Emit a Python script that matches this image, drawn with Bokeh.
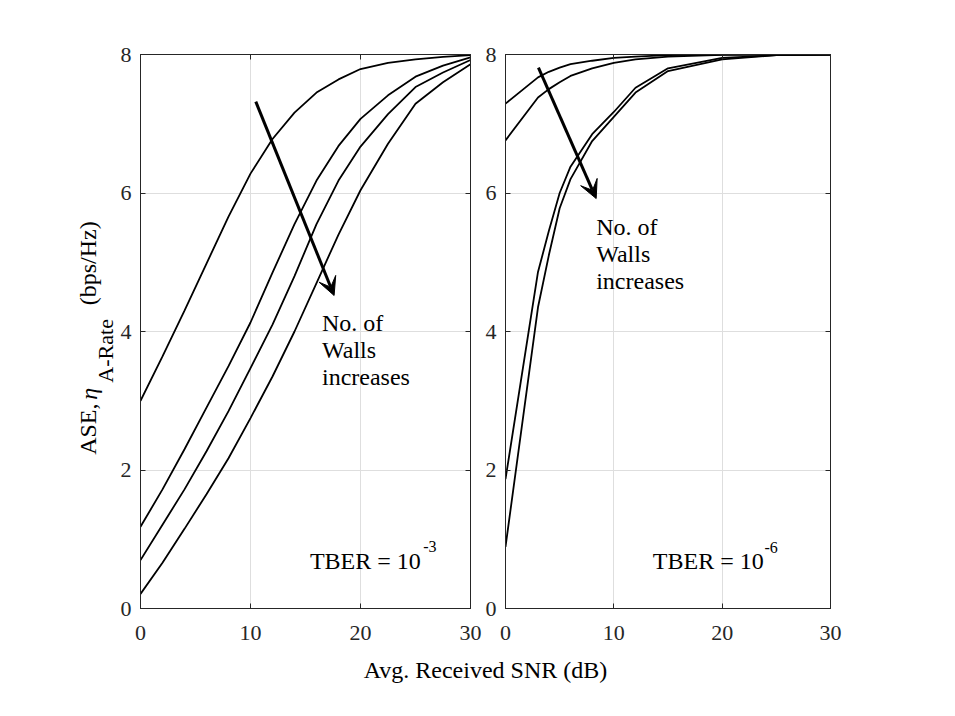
import math
from bokeh.plotting import figure
from bokeh.models import Range1d, LinearAxis, Label, Arrow, VeeHead, FixedTicker
from bokeh.core.properties import value
from bokeh.layouts import row, column
from bokeh.embed import file_html
from bokeh.resources import INLINE

# ---------------- data ----------------
snr_left = [0, 2, 4, 6, 8, 10, 12, 14, 16, 18, 20, 22.5, 25, 27.5, 30]
ase_l1 = [3.00, 3.64, 4.30, 4.98, 5.66, 6.28, 6.78, 7.16, 7.45, 7.64, 7.79, 7.88, 7.93, 7.965, 7.99]
ase_l2 = [1.18, 1.72, 2.30, 2.90, 3.50, 4.13, 4.85, 5.55, 6.18, 6.68, 7.07, 7.41, 7.68, 7.84, 7.96]
ase_l3 = [0.70, 1.21, 1.72, 2.27, 2.85, 3.47, 4.10, 4.80, 5.55, 6.18, 6.67, 7.14, 7.53, 7.74, 7.92]
ase_l4 = [0.21, 0.66, 1.15, 1.65, 2.17, 2.75, 3.35, 4.00, 4.70, 5.40, 6.04, 6.71, 7.29, 7.60, 7.86]

snr_right = [0, 3, 4, 5, 6, 8, 10, 12, 15, 20, 25, 30]
ase_r1 = [7.29, 7.67, 7.75, 7.81, 7.86, 7.91, 7.95, 7.97, 7.99, 8.00, 8.00, 8.00]
ase_r2 = [6.76, 7.38, 7.50, 7.60, 7.69, 7.80, 7.88, 7.93, 7.97, 7.995, 8.00, 8.00]
ase_r3 = [1.87, 4.86, 5.45, 6.00, 6.38, 6.85, 7.17, 7.52, 7.80, 7.95, 7.99, 8.00]
ase_r4 = [0.89, 4.35, 5.10, 5.78, 6.20, 6.75, 7.10, 7.45, 7.76, 7.93, 7.99, 8.00]

x_ticks = [0, 10, 20, 30]
y_ticks = [0, 2, 4, 6, 8]

FONT = "Liberation Serif"
AX = "#262626"
GRID = "#dedede"
H = 658


def make_panel(width, b_left, b_right):
    p = figure(width=width, height=H, x_range=Range1d(0, 30), y_range=Range1d(0, 8),
               output_backend="svg", toolbar_location=None,
               min_border_left=b_left, min_border_right=b_right,
               min_border_top=54, min_border_bottom=50)
    p.background_fill_color = "white"
    p.border_fill_color = "white"
    p.outline_line_color = AX
    p.outline_line_width = 1
    for ax in p.xaxis:
        ax.ticker = FixedTicker(ticks=x_ticks)
        ax.major_label_standoff = 17
    for ax in p.yaxis:
        ax.ticker = FixedTicker(ticks=y_ticks)
        ax.major_label_standoff = 9
    for ax in p.xaxis + p.yaxis:
        ax.major_tick_in = 5
        ax.major_tick_out = 0
        ax.minor_tick_line_color = None
        ax.axis_line_color = AX
        ax.major_tick_line_color = AX
        ax.major_label_text_font = FONT
        ax.major_label_text_font_size = "22px"
        ax.major_label_text_color = AX
    # mirrored ticks on top and right (labels not drawn)
    top = LinearAxis(ticker=FixedTicker(ticks=x_ticks), major_tick_in=5, major_tick_out=0,
                     minor_tick_line_color=None, axis_line_color=AX, major_tick_line_color=AX,
                     major_label_text_color=None, major_label_text_font_size="1px",
                     major_label_standoff=0)
    right = LinearAxis(ticker=FixedTicker(ticks=y_ticks), major_tick_in=5, major_tick_out=0,
                       minor_tick_line_color=None, axis_line_color=AX, major_tick_line_color=AX,
                       major_label_text_color=None, major_label_text_font_size="1px",
                       major_label_standoff=0)
    p.add_layout(top, "above")
    p.add_layout(right, "right")
    p.xgrid.ticker = FixedTicker(ticks=x_ticks)
    p.ygrid.ticker = FixedTicker(ticks=y_ticks)
    p.xgrid.grid_line_color = GRID
    p.ygrid.grid_line_color = GRID
    return p


def blank(width, height, xr, yr):
    p = figure(width=width, height=height, x_range=Range1d(*xr), y_range=Range1d(*yr),
               output_backend="svg", toolbar_location=None, min_border=0,
               x_axis_type=None, y_axis_type=None)
    p.outline_line_color = None
    p.xgrid.visible = False
    p.ygrid.visible = False
    return p


def add_text(p, x, y, txt, size="24px", angle=0.0, style="normal", align="left", baseline="alphabetic"):
    p.add_layout(Label(x=x, y=y, text=txt, text_font=FONT, text_font_size=size,
                       text_color="black", angle=angle, text_font_style=style,
                       text_align=align, text_baseline=baseline))


def centered_text(p, x, y, txt, size="24px", angle=0.0, style="normal"):
    p.text(x=[x], y=[y], text=[txt], angle=angle, text_align="center",
           text_baseline="middle", text_font=value(FONT), text_font_size=size,
           text_font_style=style, text_color="black")


# ---------------- y-axis label strip (pixel-like coords) ----------------
W0 = 117
p0 = blank(W0, H, (0, W0), (0, H))
rot = math.pi / 2
centered_text(p0, 87, H - 445, "ASE,", angle=rot)
centered_text(p0, 88, H - 403, "\u03b7", angle=rot, style="italic")
centered_text(p0, 105, H - 352, "A-Rate", size="22px", angle=rot)
centered_text(p0, 87, H - 248, "(bps/Hz)", angle=rot)

# ---------------- left panel ----------------
p1 = make_panel(20 + 333 + 12, 20, 12)
for ys in (ase_l1, ase_l2, ase_l3, ase_l4):
    p1.line(snr_left, ys, line_color="black", line_width=1.8)

p1.add_layout(Arrow(end=VeeHead(size=18, fill_color="black", line_color="black"),
                    x_start=10.48, y_start=7.32, x_end=17.6, y_end=4.52,
                    line_color="black", line_width=3))
add_text(p1, 16.5, 4.116, "No. of")
add_text(p1, 16.5, 3.726, "Walls")
add_text(p1, 16.5, 3.336, "increases")
add_text(p1, 15.4, 0.683, "TBER = 10")
add_text(p1, 25.7, 0.895, "-3", size="16px")

# ---------------- right panel ----------------
p2 = make_panel(20 + 328 + 30, 20, 30)
for ys in (ase_r1, ase_r2, ase_r3, ase_r4):
    p2.line(snr_right, ys, line_color="black", line_width=1.8)

p2.add_layout(Arrow(end=VeeHead(size=18, fill_color="black", line_color="black"),
                    x_start=3.04, y_start=7.81, x_end=8.37, y_end=5.92,
                    line_color="black", line_width=3))
add_text(p2, 8.37, 5.51, "No. of")
add_text(p2, 8.37, 5.115, "Walls")
add_text(p2, 8.37, 4.73, "increases")
add_text(p2, 13.6, 0.683, "TBER = 10")
add_text(p2, 23.9, 0.885, "-6", size="16px")

# ---------------- shared x-axis label ----------------
p3 = blank(860, 50, (0, 860), (0, 50))
add_text(p3, 485, 39, "Avg. Received SNR (dB)", align="center", baseline="middle")

layout = column(row(p0, p1, p2), p3)
open("out.html", "w").write(file_html(layout, INLINE))
